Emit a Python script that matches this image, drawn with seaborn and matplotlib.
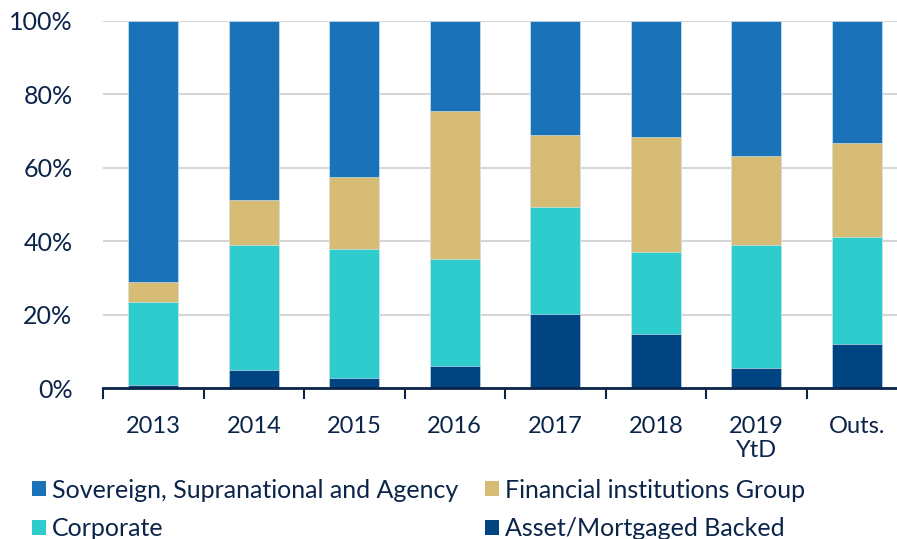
import numpy as np
import pandas as pd
import matplotlib
matplotlib.use("Agg")
import matplotlib.pyplot as plt
import seaborn as sns
from matplotlib.patches import Patch

# share of issuance by sector (%)
years = ["2013", "2014", "2015", "2016", "2017", "2018", "2019\nYtD", "Outs."]
abs_mbs = [0.8, 5.0, 2.8, 6.1, 20.2, 14.8, 5.5, 12.1]
corporate = [22.6, 34.1, 35.2, 29.2, 29.2, 22.2, 33.6, 29.2]
fig_group = [5.5, 12.1, 19.6, 40.2, 19.6, 31.5, 24.1, 25.6]
ssa = [71.1, 48.8, 42.4, 24.5, 31.0, 31.5, 36.8, 33.1]

series = ["Sovereign, Supranational and Agency", "Financial institutions Group",
          "Corporate", "Asset/Mortgaged Backed"]
colors = {"Sovereign, Supranational and Agency": "#1a73b8",
          "Financial institutions Group": "#d7bc76",
          "Corporate": "#2ecccc",
          "Asset/Mortgaged Backed": "#004481"}
TXT = "#0b2449"

sns.set_theme(style="white")
plt.rcParams["font.family"] = ["Lato", "DejaVu Sans"]

df = pd.DataFrame({"year": years, "abs": abs_mbs, "corp": corporate,
                   "fig": fig_group, "ssa": ssa})
# cumulative heights, drawn from the tallest down so they look stacked
df["c_abs"] = df["abs"]
df["c_corp"] = df["c_abs"] + df["corp"]
df["c_fig"] = df["c_corp"] + df["fig"]
df["c_ssa"] = df["c_fig"] + df["ssa"]

fig = plt.figure(figsize=(8.97, 5.39), dpi=100)
ax = fig.add_axes([103 / 897, 150.7 / 539, 804 / 897, 367.3 / 539])

for col, name in [("c_ssa", series[0]), ("c_fig", series[1]),
                  ("c_corp", series[2]), ("c_abs", series[3])]:
    sns.barplot(data=df, x="year", y=col, color=colors[name], width=0.5,
                saturation=1, ax=ax, edgecolor="#e8eef5", linewidth=0.4)

ax.set_ylim(0, 100)
ax.set_xlim(-0.5, 7.5)
ax.set_yticks(np.arange(0, 101, 20))
ax.set_yticklabels([f"{v}%" for v in range(0, 101, 20)])
ax.yaxis.grid(True, color="#d6d6d6", linewidth=1.5)
ax.set_axisbelow(True)
ax.set_xlabel("")
ax.set_ylabel("")

ax.set_xticks(np.arange(len(years)))
ax.set_xticklabels(years)
ax.set_xticks(np.arange(-0.5, len(years), 1), minor=True)
ax.tick_params(axis="x", which="major", length=0, pad=20, labelsize=17, labelcolor=TXT)
ax.tick_params(axis="x", which="minor", length=8, width=1.5, color=TXT, direction="out", bottom=True)
ax.tick_params(axis="y", length=0, pad=22, labelsize=18, labelcolor=TXT)

for s in ["top", "right", "left"]:
    ax.spines[s].set_visible(False)
ax.spines["bottom"].set_color(TXT)
ax.spines["bottom"].set_linewidth(2)

handles = [Patch(facecolor=colors[n], edgecolor="none") for n in
           [series[0], series[2], series[1], series[3]]]
labels = [series[0], series[2], series[1], series[3]]
fig.legend(handles, labels, ncol=2, loc="upper left", bbox_to_anchor=(0.036, 0.112),
           frameon=False, fontsize=18, handlelength=0.55, handleheight=0.55,
           handletextpad=0.25, columnspacing=1.05, labelspacing=0.62,
           borderpad=0, borderaxespad=0, labelcolor=TXT)

fig.savefig("out.png", dpi=100)
